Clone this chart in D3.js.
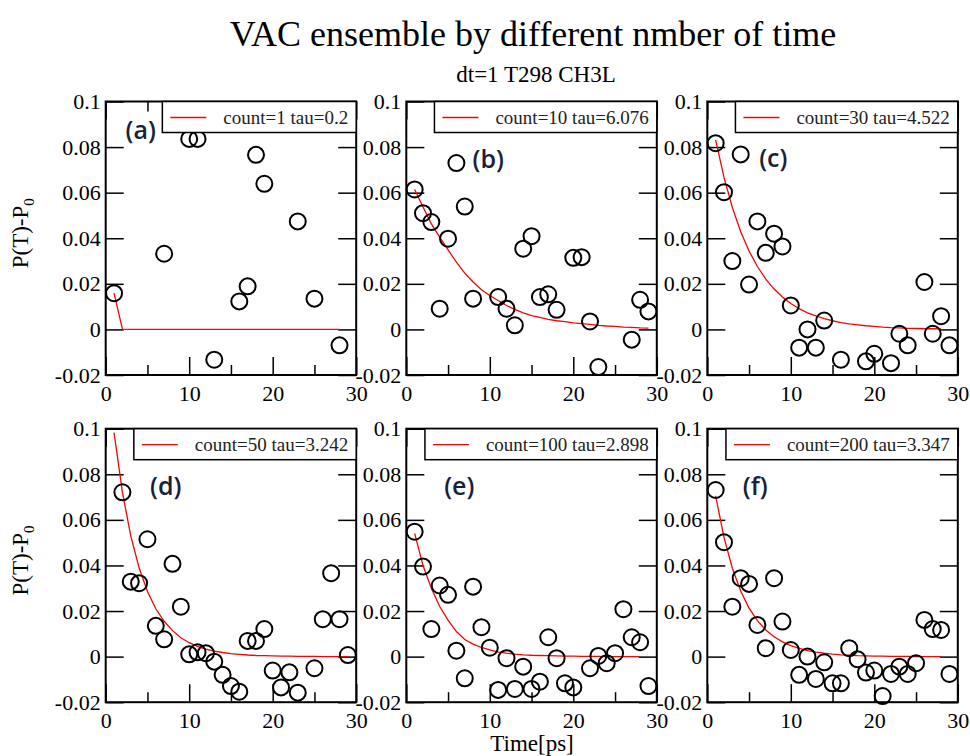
<!DOCTYPE html>
<html>
<head>
<meta charset="utf-8">
<script src="https://cdn.jsdelivr.net/npm/d3@7"></script>
<style>
  body { margin: 0; background: #fff; }
  text { font-family: "Liberation Serif", "Times New Roman", serif; }
</style>
</head>
<body>
<svg width="970" height="756"></svg>
<script>
// tick values and labels
var xTicks = [0, 10, 20, 30];
var xTickLabels = ["0", "10", "20", "30"];
var xMinorTicks = [5, 15, 25];
var yTicks = [-0.02, 0, 0.02, 0.04, 0.06, 0.08, 0.1];
var yTickLabels = ["-0.02", "0", "0.02", "0.04", "0.06", "0.08", "0.1"];

var panelNames = ["(a)", "(b)", "(c)", "(d)", "(e)", "(f)"];
var counts = [1, 10, 30, 50, 100, 200];
var taus = ["0.2", "6.076", "4.522", "3.242", "2.898", "3.347"];

// circles: time[ps] and P(T)-P0
var timeA = [1, 7, 10, 11, 13, 16, 17, 18, 19, 23, 25, 28];
var valA = [0.0159, 0.0332, 0.0836, 0.0836, -0.0133, 0.0123, 0.0189, 0.0766, 0.0639, 0.0474, 0.0135, -0.0070];

var timeB = [1, 2, 3, 4, 5, 6, 7, 8, 11, 12, 13, 14, 15, 16, 17, 18, 20, 21, 22, 23, 27, 28, 29];
var valB = [0.0614, 0.0510, 0.0471, 0.0091, 0.0398, 0.0730, 0.0539, 0.0135, 0.0142, 0.0091, 0.0018, 0.0354,
            0.0409, 0.0142, 0.0154, 0.0086, 0.0314, 0.0317, 0.0035, -0.0165, -0.0045, 0.0130, 0.0079];

var timeC = [1, 2, 3, 4, 5, 6, 7, 8, 9, 10, 11, 12, 13, 14, 16, 19, 20, 22, 23, 24, 26, 27, 28, 29];
var valC = [0.0817, 0.0602, 0.0300, 0.0768, 0.0197, 0.0474, 0.0336, 0.0420, 0.0364, 0.0105, -0.0080, 0.0000,
            -0.0080, 0.0039, -0.0133, -0.0140, -0.0107, -0.0148, -0.0019, -0.0070, 0.0208, -0.0019, 0.0058, -0.0070];

var timeD = [2, 3, 4, 5, 6, 7, 8, 9, 10, 11, 12, 13, 14, 15, 16, 17, 18, 19, 20, 21, 22, 23, 25, 26, 27, 28, 29];
var valD = [0.0721, 0.0329, 0.0322, 0.0515, 0.0135, 0.0076, 0.0407, 0.0219, 0.0010, 0.0019, 0.0015, -0.0022,
            -0.0080, -0.0129, -0.0154, 0.0069, 0.0069, 0.0121, -0.0061, -0.0135, -0.0069, -0.0158, -0.0051,
            0.0164, 0.0366, 0.0164, 0.0007];

var timeE = [1, 2, 3, 4, 5, 6, 7, 8, 9, 10, 11, 12, 13, 14, 15, 16, 17, 18, 19, 20, 22, 23, 24, 25, 26, 27, 28, 29];
var valE = [0.0548, 0.0395, 0.0121, 0.0312, 0.0271, 0.0026, -0.0095, 0.0307, 0.0129, 0.0039, -0.0146, -0.0007,
            -0.0142, -0.0044, -0.0142, -0.0110, 0.0085, -0.0007, -0.0117, -0.0135, -0.0051, 0.0003, -0.0029,
            0.0015, 0.0208, 0.0085, 0.0063, -0.0129];

var timeF = [1, 2, 3, 4, 5, 6, 7, 8, 9, 10, 11, 12, 13, 14, 15, 16, 17, 18, 19, 20, 21, 22, 23, 24, 25, 26, 27, 28, 29];
var valF = [0.0731, 0.0502, 0.0219, 0.0344, 0.0319, 0.0139, 0.0037, 0.0344, 0.0154, 0.0029, -0.0080, 0.0000,
            -0.0098, -0.0025, -0.0117, -0.0117, 0.0037, -0.0012, -0.0070, -0.0061, -0.0173, -0.0076, -0.0044,
            -0.0076, -0.0029, 0.0161, 0.0121, 0.0117, -0.0076];

// red fit curves, one value per integer time starting at t=1
var fitA = [0.0159, 0.0001, 0, 0, 0, 0, 0, 0, 0, 0, 0, 0, 0, 0, 0, 0, 0, 0, 0, 0, 0, 0, 0, 0, 0, 0, 0, 0];
var fitB = [0.0614, 0.0537, 0.0463, 0.0405, 0.0349, 0.0295, 0.0247, 0.0208, 0.0174, 0.0149, 0.0127, 0.0105,
            0.0088, 0.0073, 0.0061, 0.0053, 0.0044, 0.0038, 0.0034, 0.0029, 0.0025, 0.0022, 0.0018, 0.0015,
            0.0013, 0.0010, 0.0009, 0.0007, 0.0006];
var fitC = [0.0832, 0.0667, 0.0535, 0.0429, 0.0344, 0.0276, 0.0221, 0.0177, 0.0142, 0.0114, 0.0091, 0.0073,
            0.0059, 0.0047, 0.0038, 0.0030, 0.0024, 0.0020, 0.0016, 0.0013, 0.0010, 0.0008, 0.0007, 0.0005,
            0.0004, 0.0003, 0.0003, 0.0002];
var fitD = [0.0983, 0.0722, 0.0530, 0.0390, 0.0286, 0.0210, 0.0155, 0.0114, 0.0083, 0.0061, 0.0045, 0.0033,
            0.0024, 0.0018, 0.0013, 0.0010, 0.0007, 0.0005, 0.0004, 0.0003, 0.0002, 0.0002, 0.0001, 0.0001,
            0.0001, 0, 0, 0, 0];
var fitE = [0.0541, 0.0400, 0.0300, 0.0220, 0.0160, 0.0110, 0.0075, 0.0055, 0.0040, 0.0030, 0.0020, 0.0015,
            0.0011, 0.0008, 0.0006, 0.0005, 0.0004, 0.0003, 0.0002, 0.0002, 0.0001, 0.0001, 0.0001, 0, 0, 0, 0, 0];
var fitF = [0.0705, 0.0523, 0.0388, 0.0288, 0.0213, 0.0158, 0.0117, 0.0087, 0.0065, 0.0048, 0.0036, 0.0026,
            0.0020, 0.0015, 0.0011, 0.0008, 0.0006, 0.0004, 0.0003, 0.0002, 0.0002, 0.0001, 0.0001, 0.0001,
            0, 0, 0, 0];

var times = [timeA, timeB, timeC, timeD, timeE, timeF];
var vals = [valA, valB, valC, valD, valE, valF];
var fits = [fitA, fitB, fitC, fitD, fitE, fitF];

var svg = d3.select("svg");
var colLeft = [105.7, 406.3, 707.3],
    rowTop = [101.5, 428.7],
    pw = 250.5,
    ph = 273.5;
// where the (a)..(f) tag sits inside each panel
var tagAt = [[35, 27], [82, 56], [66, 55], [60, 56], [53, 56], [48, 56]];

svg.append("text")
    .attr("x", 533).attr("y", 46)
    .attr("text-anchor", "middle")
    .attr("font-size", 36)
    .text("VAC ensemble by different nmber of time");

svg.append("text")
    .attr("x", 536).attr("y", 82)
    .attr("text-anchor", "middle")
    .attr("font-size", 23)
    .text("dt=1 T298 CH3L");

var x = d3.scaleLinear().domain([0, 30]).range([0, pw]);
var y = d3.scaleLinear().domain([-0.02, 0.1]).range([ph, 0]);

var line = d3.line()
    .x(function(d, i) { return x(i + 1); })
    .y(function(d) { return y(d); });

function styleAxis(sel) {
    sel.select(".domain").remove();
    sel.selectAll("line").attr("stroke", "#000").attr("stroke-width", 1.5);
    sel.selectAll("text").style("font-family", "'Liberation Serif', 'Times New Roman', serif")
        .attr("font-size", 22).attr("fill", "#000");
}

for (var k = 0; k < 6; k++) {
    var col = k % 3, row = Math.floor(k / 3);
    var g = svg.append("g").attr("transform", "translate(" + colLeft[col] + "," + rowTop[row] + ")");

    // axes: major and minor ticks pointing inward on all four sides
    g.append("g").attr("transform", "translate(0," + ph + ")")
        .call(d3.axisBottom(x).tickValues(xTicks).tickSize(-18).tickPadding(10)
            .tickFormat(function(d, i) { return xTickLabels[i]; }))
        .call(styleAxis);
    g.append("g").attr("transform", "translate(0," + ph + ")")
        .call(d3.axisBottom(x).tickValues(xMinorTicks).tickSize(-10).tickFormat(""))
        .call(styleAxis);
    g.append("g")
        .call(d3.axisTop(x).tickValues(xTicks).tickSize(-18).tickFormat(""))
        .call(styleAxis);
    g.append("g")
        .call(d3.axisTop(x).tickValues(xMinorTicks).tickSize(-10).tickFormat(""))
        .call(styleAxis);
    g.append("g")
        .call(d3.axisLeft(y).tickValues(yTicks).tickSize(-18).tickPadding(5)
            .tickFormat(function(d, i) { return yTickLabels[i]; }))
        .call(styleAxis);
    g.append("g").attr("transform", "translate(" + pw + ",0)")
        .call(d3.axisRight(y).tickValues(yTicks).tickSize(-18).tickFormat(""))
        .call(styleAxis);

    g.append("rect")
        .attr("width", pw).attr("height", ph)
        .attr("fill", "none").attr("stroke", "#000").attr("stroke-width", 2);

    g.append("path")
        .datum(fits[k])
        .attr("fill", "none")
        .attr("stroke", "#ff0000")
        .attr("stroke-width", 1.3)
        .attr("d", line);

    var pts = times[k].map(function(t, i) { return {t: t, v: vals[k][i]}; });
    g.selectAll("circle").data(pts).enter().append("circle")
        .attr("cx", function(d) { return x(d.t); })
        .attr("cy", function(d) { return y(d.v); })
        .attr("r", 8)
        .attr("fill", "none")
        .attr("stroke", "#000")
        .attr("stroke-width", 2);

    // legend
    var leg = g.append("g");
    var box = leg.append("rect");
    var lt = leg.append("text")
        .attr("x", pw - 8).attr("y", 22)
        .attr("text-anchor", "end")
        .attr("font-size", 19)
        .attr("fill", "#222")
        .text("count=" + counts[k] + " tau=" + taus[k]);
    var tw = lt.node().getComputedTextLength();
    var bx = pw - 8 - tw - 61;
    box.attr("x", bx).attr("y", 0)
        .attr("width", pw - bx).attr("height", 31)
        .attr("fill", "#fff").attr("stroke", "#000").attr("stroke-width", 1.5);
    leg.append("line")
        .attr("x1", bx + 8).attr("x2", bx + 44)
        .attr("y1", 16).attr("y2", 16)
        .attr("stroke", "#ff0000").attr("stroke-width", 1.3);

    g.append("text")
        .attr("x", tagAt[k][0]).attr("y", tagAt[k][1])
        .attr("text-anchor", "middle")
        .attr("dominant-baseline", "central")
        .style("font-family", "'Open Sans', 'Noto Sans', sans-serif")
        .style("font-weight", 600)
        .attr("font-size", 25)
        .attr("fill", "#1a1f3a")
        .text(panelNames[k]);
}

// y labels, one per row
rowTop.forEach(function(t) {
    var yl = svg.append("text")
        .attr("transform", "translate(28," + (t + ph / 2 - 5) + ") rotate(-90)")
        .attr("text-anchor", "middle")
        .attr("font-size", 23);
    yl.append("tspan").text("P(T)-P");
    yl.append("tspan").attr("font-size", 15).attr("dy", 6).text("0");
});

svg.append("text")
    .attr("x", 532).attr("y", 751)
    .attr("text-anchor", "middle")
    .attr("font-size", 23)
    .text("Time[ps]");
</script>
</body>
</html>
